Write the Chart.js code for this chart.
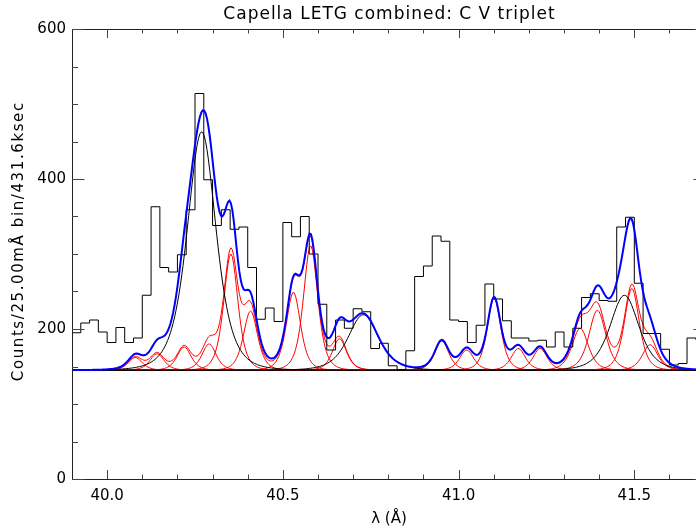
<!DOCTYPE html>
<html>
<head>
<meta charset="utf-8">
<script src="https://cdn.jsdelivr.net/npm/chart.js@4.4.1/dist/chart.umd.min.js"></script>
<style>
  html, body { margin: 0; padding: 0; background: #fff; overflow: hidden; }
  #wrap { width: 696px; height: 531px; overflow: hidden; position: relative; }
  canvas { display: block; }
</style>
</head>
<body>
<div id="wrap"><canvas id="spec" width="720" height="531" style="width:720px;height:531px"></canvas></div>
<script>
// Observed spectrum: left edges of the 25 mA bins (Angstrom) and counts per bin
const binStarts = [
  39.900, 39.925, 39.950, 39.975, 40.000, 40.025, 40.050, 40.075, 40.100, 40.125,
  40.150, 40.175, 40.200, 40.225, 40.250, 40.275, 40.300, 40.325, 40.350, 40.375,
  40.400, 40.425, 40.450, 40.475, 40.500, 40.525, 40.550, 40.575, 40.600, 40.625,
  40.650, 40.675, 40.700, 40.725, 40.750, 40.775, 40.800, 40.825, 40.850, 40.875,
  40.900, 40.925, 40.950, 40.975, 41.000, 41.025, 41.050, 41.075, 41.100, 41.125,
  41.150, 41.175, 41.200, 41.225, 41.250, 41.275, 41.300, 41.325, 41.350, 41.375,
  41.400, 41.425, 41.450, 41.475, 41.500, 41.525, 41.550, 41.575, 41.600, 41.625,
  41.650, 41.675, 41.700
];
const counts = [
  195, 208, 212, 196, 182, 202, 182, 188, 245, 363,
  282, 276, 299, 359, 514, 399, 338, 359, 333, 336,
  282, 213, 228, 210, 342, 323, 350, 300, 233, 172,
  212, 201, 227, 223, 174, 181, 151, 146, 171, 270,
  284, 324, 317, 212, 210, 182, 205, 260, 240, 211,
  188, 188, 184, 185, 176, 196, 176, 201, 242, 247,
  238, 237, 336, 349, 261, 194, 194, 173, 152, 154,
  188, 186
];

// Fitted model: flat continuum plus beta-profile lines
const continuum = 145;
const profileBeta = 2.5;

// C V triplet: resonance, intercombination, forbidden
const cvCenters = [40.269, 40.729, 41.472];
const cvAmps    = [318, 74, 100];
const cvWidths  = [0.085, 0.090, 0.085];

// Other lines in the band
const blendCenters = [40.080, 40.142, 40.219, 40.290, 40.352, 40.408, 40.530, 40.579, 40.661,
                      40.952, 41.023, 41.101, 41.170, 41.232, 41.346, 41.395, 41.493, 41.545];
const blendAmps    = [17, 22, 31, 35, 155, 79, 104, 166, 42,
                      39, 27, 96, 29, 29, 56, 80, 109, 34];
const blendWidths  = [0.042, 0.042, 0.042, 0.042, 0.042, 0.042, 0.042, 0.042, 0.042,
                      0.042, 0.042, 0.040, 0.042, 0.042, 0.048, 0.050, 0.044, 0.046];

// Axes
const xMin = 39.9, xMax = 41.704;
const yMin = 0, yMax = 600;
const xTickLabels = ['40.0', '40.5', '41.0', '41.5'];
const yTickLabels = ['0', '200', '400', '600'];
const titleText = 'Capella LETG combined: C V triplet';
const yTitleText = 'Counts/25.00mÅ bin/431.6ksec';
const xTitleText = 'λ (Å)';
const modelStep = 0.004;

function lineProfile(x, c, a, w) {
  const u = (x - c) / w;
  return a / Math.pow(1 + u * u, profileBeta);
}

const grid = [];
for (let x = xMin; x <= xMax + 1e-9; x += modelStep) grid.push(x);

function curve(fn) { return grid.map(x => ({ x: x, y: fn(x) })); }

const cvCurves = cvCenters.map((c, k) => curve(x => continuum + lineProfile(x, c, cvAmps[k], cvWidths[k])));
const blendCurves = blendCenters.map((c, k) => curve(x => continuum + lineProfile(x, c, blendAmps[k], blendWidths[k])));
const blendSum = curve(x => {
  let s = continuum;
  for (let k = 0; k < blendCenters.length; k++) s += lineProfile(x, blendCenters[k], blendAmps[k], blendWidths[k]);
  return s;
});
const totalModel = curve(x => {
  let s = continuum;
  for (let k = 0; k < cvCenters.length; k++) s += lineProfile(x, cvCenters[k], cvAmps[k], cvWidths[k]);
  for (let k = 0; k < blendCenters.length; k++) s += lineProfile(x, blendCenters[k], blendAmps[k], blendWidths[k]);
  return s;
});

// Histogram: each bin value held from its left edge to the next edge
const histPoints = binStarts.map((x, i) => ({ x: x, y: counts[Math.min(i, counts.length - 1)] }));

const thin = { pointRadius: 0, tension: 0, fill: false };
const datasets = [
  Object.assign({ label: 'model', data: totalModel, borderColor: '#0000ff', borderWidth: 2 }, thin),
  Object.assign({ label: 'counts', data: histPoints, borderColor: '#000000', borderWidth: 1, stepped: 'before' }, thin),
  ...cvCurves.map((d, k) => Object.assign({ label: 'C V ' + k, data: d, borderColor: '#000000', borderWidth: 1 }, thin)),
  Object.assign({ label: 'blend sum', data: blendSum, borderColor: '#ff0000', borderWidth: 1 }, thin),
  ...blendCurves.map((d, k) => Object.assign({ label: 'line ' + k, data: d, borderColor: '#ff0000', borderWidth: 1 }, thin))
];

const fontFamily = '"DejaVu Sans", sans-serif';

function spacedText(ctx, text, x, y, spacing) {
  if ('letterSpacing' in ctx) {
    ctx.letterSpacing = spacing + 'px';
    ctx.fillText(text, x + spacing / 2, y);
    ctx.letterSpacing = '0px';
  } else {
    ctx.fillText(text, x, y);
  }
}

// IDL-style box with inward major/minor ticks, tick values and titles
const frameTicks = {
  id: 'frameTicks',
  afterDatasetsDraw(chart) {
    const { ctx, chartArea: a, scales: { x, y } } = chart;
    ctx.save();
    ctx.lineWidth = 1;
    ctx.strokeStyle = '#222';
    ctx.strokeRect(a.left + 0.5, a.top + 0.5, a.right - a.left, a.bottom - a.top);
    ctx.strokeStyle = '#444';
    ctx.beginPath();
    for (let k = 0; ; k++) {
      const v = 40.0 + k * 0.1;
      if (v > xMax) break;
      const px = Math.round(x.getPixelForValue(v)) + 0.5;
      const major = Math.abs(v * 2 - Math.round(v * 2)) < 1e-6;
      const len = major ? 9 : 4.5;
      ctx.moveTo(px, a.bottom); ctx.lineTo(px, a.bottom - len);
      ctx.moveTo(px, a.top); ctx.lineTo(px, a.top + len);
    }
    for (let v = yMin; v <= yMax; v += 50) {
      const py = Math.round(y.getPixelForValue(v)) + 0.5;
      const len = (v % 200 === 0) ? 12.5 : 6;
      ctx.moveTo(a.left, py); ctx.lineTo(a.left + len, py);
      ctx.moveTo(a.right, py); ctx.lineTo(a.right - len, py);
    }
    ctx.stroke();

    ctx.fillStyle = '#000';
    ctx.font = '15px ' + fontFamily;
    ctx.textAlign = 'right';
    ctx.textBaseline = 'middle';
    yTickLabels.forEach(t => ctx.fillText(t, a.left - 6, y.getPixelForValue(parseFloat(t))));

    ctx.textAlign = 'center';
    ctx.font = '17px ' + fontFamily;
    spacedText(ctx, titleText, (a.left + a.right) / 2, 15, 1);

    ctx.save();
    ctx.translate(19, 242);
    ctx.rotate(-Math.PI / 2);
    ctx.font = '15px ' + fontFamily;
    spacedText(ctx, yTitleText, 0, 0, 1.6);
    ctx.restore();
    ctx.restore();
  }
};

new Chart(document.getElementById('spec'), {
  type: 'line',
  data: { datasets: datasets },
  plugins: [frameTicks],
  options: {
    responsive: false,
    animation: false,
    events: [],
    layout: { padding: { left: 0, right: 14, top: 29, bottom: 0 } },
    plugins: {
      legend: { display: false },
      tooltip: { enabled: false },
      title: { display: false }
    },
    scales: {
      x: {
        type: 'linear',
        min: xMin, max: xMax,
        grid: { display: false, drawTicks: false },
        border: { display: false },
        afterFit(s) { s.height = 52; },
        afterBuildTicks(s) { s.ticks = xTickLabels.map(t => ({ value: parseFloat(t) })); },
        ticks: {
          color: '#000',
          padding: 8,
          maxRotation: 0,
          font: { family: fontFamily, size: 15 },
          callback: (v) => xTickLabels.find(t => Math.abs(parseFloat(t) - v) < 1e-6)
        },
        title: {
          display: true,
          text: xTitleText,
          color: '#000',
          font: { family: fontFamily, size: 15 },
          padding: { top: 0, bottom: 3 }
        }
      },
      y: {
        type: 'linear',
        min: yMin, max: yMax,
        grid: { display: false, drawTicks: false },
        border: { display: false },
        afterFit(s) { s.width = 72; },
        afterBuildTicks(s) { s.ticks = yTickLabels.map(t => ({ value: parseFloat(t) })); },
        ticks: { display: false },
        title: { display: false }
      }
    }
  }
});
</script>
</body>
</html>
